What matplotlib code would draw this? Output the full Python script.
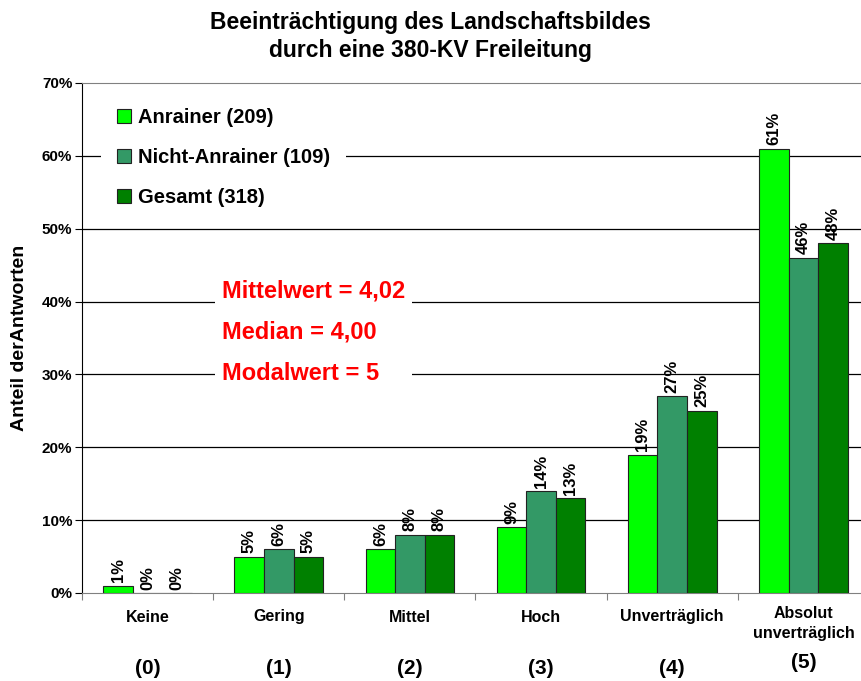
import matplotlib.pyplot as plt
import numpy as np

plt.rcParams['font.family'] = ['Liberation Sans', 'DejaVu Sans']
plt.rcParams['font.weight'] = 'bold'

categories = ["Keine", "Gering", "Mittel", "Hoch", "Unverträglich", "Absolut\nunverträglich"]
codes = ["(0)", "(1)", "(2)", "(3)", "(4)", "(5)"]
series_names = ["Anrainer (209)", "Nicht-Anrainer (109)", "Gesamt (318)"]
anrainer = [1, 5, 6, 9, 19, 61]
nicht_anrainer = [0, 6, 8, 14, 27, 46]
gesamt = [0, 5, 8, 13, 25, 48]
stats_lines = ["Mittelwert = 4,02", "Median = 4,00", "Modalwert = 5"]

colors = ['#00FF00', '#339966', '#008000']
W, H = 861, 681

fig = plt.figure(figsize=(W / 100, H / 100), dpi=100)
left, right, top, bottom = 82, 869, 83, 593
ax = fig.add_axes([left / W, 1 - bottom / H, (right - left) / W, (bottom - top) / H])

x = np.arange(len(categories))
bw = 0.225
for k, vals in enumerate([anrainer, nicht_anrainer, gesamt]):
    bars = ax.bar(x + (k - 1) * bw, vals, bw, color=colors[k], edgecolor='#222222',
                  linewidth=0.8, label=series_names[k], zorder=3)
    for b, v in zip(bars, vals):
        ax.annotate(f"{v}%", (b.get_x() + b.get_width() / 2, v), xytext=(0, 2.5),
                    textcoords='offset points', rotation=90, ha='center', va='bottom',
                    fontsize=12, fontweight='bold', zorder=4)

ax.set_xlim(-0.5, 5.5)
ax.set_ylim(0, 70)
for g in range(10, 70, 10):
    ax.axhline(g, color='black', linewidth=0.9, zorder=1)
ax.spines['top'].set_color('#808080')
ax.spines['right'].set_visible(False)
ax.spines['bottom'].set_color('#808080')
ax.set_yticks(range(0, 71, 10))
ax.set_yticklabels([f"{t}%" for t in range(0, 71, 10)], fontsize=11, fontweight='bold')
ax.tick_params(axis='y', length=5, width=0.8, pad=2)
ax.set_xticks(np.arange(-0.5, 5.6, 1))
ax.set_xticklabels([])
ax.tick_params(axis='x', length=5, width=0.8, color='#808080')

tr = ax.get_xaxis_transform()
span = bottom - top
for i, (c, code) in enumerate(zip(categories, codes)):
    if '\n' in c:
        ax.text(i, -(606 - bottom) / span, c, transform=tr, ha='center', va='top',
                fontsize=11.5, fontweight='bold', linespacing=1.45)
    else:
        ax.text(i, -(617 - bottom) / span, c, transform=tr, ha='center', va='center',
                fontsize=11.5, fontweight='bold')
    yy = 668 if i < 5 else 663
    ax.text(i, -(yy - bottom) / span, code, transform=tr, ha='center', va='center',
            fontsize=15, fontweight='bold')

ax.set_ylabel("Anteil derAntworten", fontsize=14, fontweight='bold', labelpad=10)

fig.text(0.5, 1 - 23 / H, "Beeinträchtigung des Landschaftsbildes", ha='center', va='center',
         fontsize=16.5, fontweight='bold')
fig.text(0.5, 1 - 51 / H, "durch eine 380-KV Freileitung", ha='center', va='center',
         fontsize=16.5, fontweight='bold')

leg = ax.legend(loc='upper left', bbox_to_anchor=(101 / W, 1 - 92 / H), bbox_transform=fig.transFigure,
                fontsize=14.5, frameon=True, facecolor='white', edgecolor='white', framealpha=1,
                fancybox=False, handlelength=0.68, handleheight=0.68, handletextpad=0.35,
                labelspacing=1.05, borderpad=0.8, borderaxespad=0)
leg.get_frame().set_linewidth(0)
leg.set_zorder(5)
for t in leg.get_texts():
    t.set_fontweight('bold')

ax.text((222 - left) / (right - left), (bottom - 332) / span, "\n".join(stats_lines),
        transform=ax.transAxes, ha='left', va='center', color='#FF0000', fontsize=17,
        fontweight='bold', linespacing=2.0, zorder=5,
        bbox=dict(facecolor='white', edgecolor='none', pad=5))

fig.savefig('out.png', dpi=100)
